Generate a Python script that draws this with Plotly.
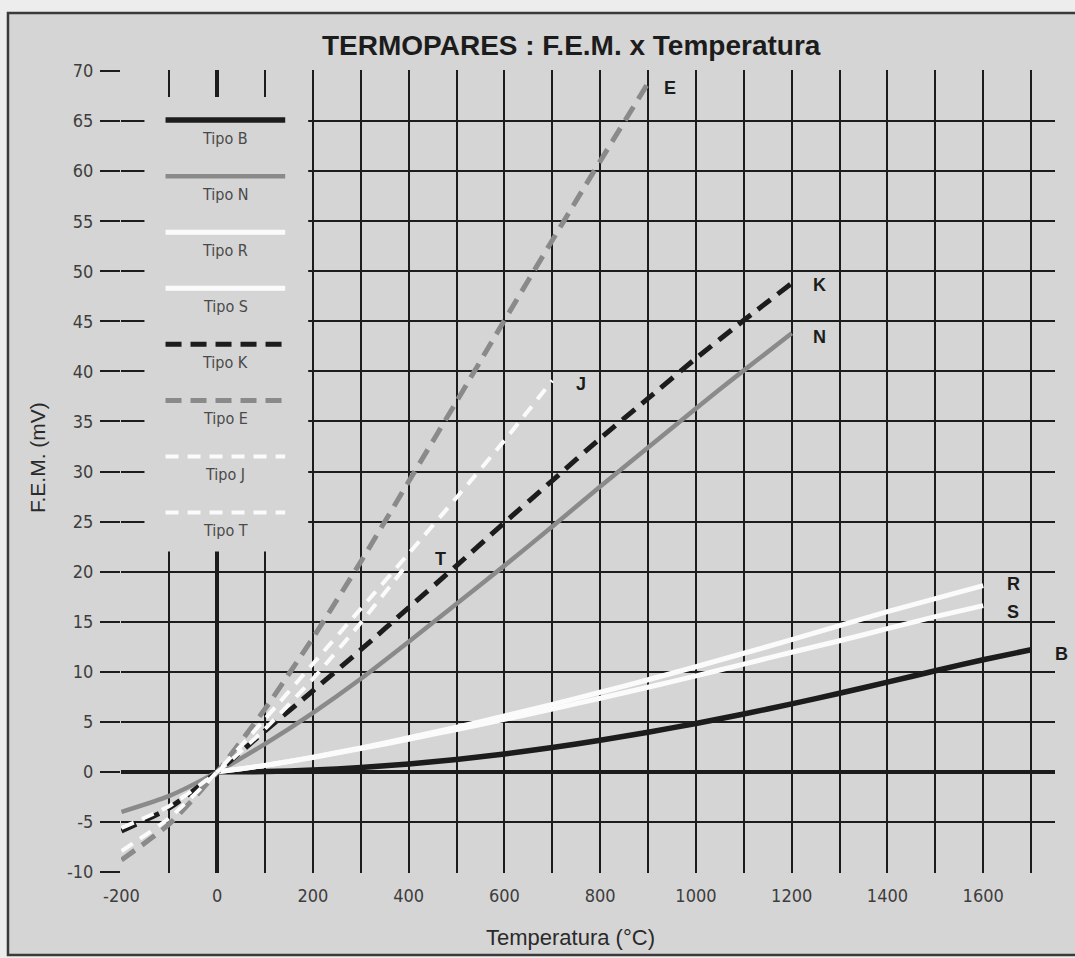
import plotly.graph_objects as go

# Temperature grid (°C) and F.E.M. (mV) per thermocouple type
temp_low = [-200, -100, 0, 100, 200, 300, 400]
temp_e = [-200, -100, 0, 100, 200, 300, 400, 500, 600, 700, 800, 900]
temp_j = [-200, -100, 0, 100, 200, 300, 400, 500, 600, 700]
temp_kn = [-200, -100, 0, 100, 200, 300, 400, 500, 600, 700, 800, 900, 1000, 1100, 1200]
temp_rs = [0, 100, 200, 300, 400, 500, 600, 700, 800, 900, 1000, 1100, 1200, 1300, 1400, 1500, 1600]
temp_b = [0, 100, 200, 300, 400, 500, 600, 700, 800, 900, 1000, 1100, 1200, 1300, 1400, 1500, 1600, 1700]

fem_e = [-8.8, -5.2, 0.0, 6.3, 13.4, 21.0, 29.0, 37.0, 45.1, 53.1, 61.0, 68.8]
fem_j = [-7.9, -4.6, 0.0, 5.3, 10.8, 16.3, 21.8, 27.4, 33.1, 39.1]
fem_t = [-5.6, -3.4, 0.0, 4.3, 9.3, 14.9, 20.9]
fem_k = [-5.9, -3.6, 0.0, 4.1, 8.1, 12.2, 16.4, 20.6, 24.9, 29.1, 33.3, 37.3, 41.3, 45.1, 48.8]
fem_n = [-4.0, -2.4, 0.0, 2.8, 5.9, 9.3, 13.0, 16.8, 20.6, 24.5, 28.5, 32.4, 36.3, 40.1, 43.8]
fem_r = [0.0, 0.65, 1.47, 2.40, 3.41, 4.47, 5.58, 6.74, 7.95, 9.2, 10.5, 11.85, 13.2, 14.6, 16.0, 17.3, 18.6]
fem_s = [0.0, 0.65, 1.44, 2.32, 3.26, 4.23, 5.24, 6.28, 7.35, 8.45, 9.59, 10.76, 11.95, 13.1, 14.3, 15.5, 16.6]
fem_b = [0.0, 0.03, 0.18, 0.43, 0.79, 1.24, 1.79, 2.43, 3.15, 3.96, 4.83, 5.78, 6.79, 7.85, 8.96, 10.1, 11.2, 12.2]

x_ticks = [-200, 0, 200, 400, 600, 800, 1000, 1200, 1400, 1600]
y_ticks = [-10, -5, 0, 5, 10, 15, 20, 25, 30, 35, 40, 45, 50, 55, 60, 65, 70]

BG = "#d5d5d5"
INK = "#1c1c1c"
GRAY = "#8a8a8a"
WHITE = "#fbfbfb"
DASH = "16px,9px"
DASH_S = "13px,9px"
NARROW = "Liberation Sans Narrow, DejaVu Sans Condensed, Liberation Sans, Arial, sans-serif"
SANS = "Liberation Sans, Arial, sans-serif"

# type, x, y, colour, width, dash, end-label shift (px)
series = [
    ("B", temp_b, fem_b, INK, 5.5, "solid", (30, -4)),
    ("N", temp_kn, fem_n, GRAY, 4.5, "solid", (28, -4)),
    ("R", temp_rs, fem_r, WHITE, 5, "solid", (30, 2)),
    ("S", temp_rs, fem_s, WHITE, 5, "solid", (30, -6)),
    ("K", temp_kn, fem_k, INK, 5, DASH, (28, -2)),
    ("E", temp_e, fem_e, GRAY, 5, DASH, (22, -5)),
    ("J", temp_j, fem_j, WHITE, 4, DASH_S, (29, -4)),
    ("T", temp_low, fem_t, WHITE, 4, DASH_S, (32, 4)),
]

fig = go.Figure()
annotations = []
for name, xs, ys, color, width, dash, (dx, dy) in series:
    fig.add_trace(go.Scatter(
        x=xs, y=ys, mode="lines", name="Tipo " + name,
        line=dict(color=color, width=width, dash=dash, shape="spline", smoothing=0.6),
        showlegend=False, hoverinfo="skip",
    ))
    annotations.append(dict(
        x=xs[-1], y=ys[-1], xref="x", yref="y", text="<b>%s</b>" % name,
        showarrow=False, xshift=dx, yshift=dy, xanchor="center", yanchor="middle",
        font=dict(family=SANS, size=18, color=INK),
    ))

# Axis titles
annotations.append(dict(
    text="Temperatura (°C)", xref="paper", yref="paper", x=0.481, y=-0.08,
    xanchor="center", yanchor="middle", showarrow=False,
    font=dict(family=SANS, size=22, color="#2a2a2a"),
))
annotations.append(dict(
    text="F.E.M. (mV)", xref="paper", yref="paper", x=-0.09, y=0.518,
    xanchor="center", yanchor="middle", showarrow=False, textangle=-90,
    font=dict(family=SANS, size=21, color="#2a2a2a"),
))

# Outer frame of the figure (paper coordinates relative to the plot area)
shapes = [dict(
    type="rect", xref="paper", yref="paper", x0=-0.121, x1=1.06, y0=-0.102, y1=1.071,
    fillcolor=BG, line=dict(color="#3a3a3a", width=2.5), layer="below",
)]

# Legend panel covering the grid in the upper-left corner
box_x0, box_x1, box_y0, box_y1 = -152, 190, 22, 67.4
shapes.append(dict(
    type="rect", xref="x", yref="y", x0=box_x0, x1=box_x1, y0=box_y0, y1=box_y1,
    fillcolor=BG, line=dict(width=0), layer="between",
))
row_top, row_step = 65.1, 5.6
for i, (name, xs, ys, color, width, dash, _) in enumerate(series):
    yy = row_top - i * row_step
    shapes.append(dict(
        type="line", xref="x", yref="y", x0=-108, x1=142, y0=yy, y1=yy,
        line=dict(color=color, width=width, dash=dash), layer="above",
    ))
    annotations.append(dict(
        x=17, y=yy, xref="x", yref="y", yshift=-18, text="Tipo " + name,
        showarrow=False, xanchor="center", yanchor="middle",
        font=dict(family=NARROW, size=16, color="#4a4a4a"),
    ))

fig.update_layout(
    width=1075, height=958,
    margin=dict(l=121, r=20, t=70, b=85),
    paper_bgcolor="#ededed", plot_bgcolor="rgba(0,0,0,0)",
    title=dict(
        text="<b>TERMOPARES : F.E.M. x Temperatura</b>",
        x=0.482, xref="paper", xanchor="center",
        y=1 - 45 / 958, yref="container", yanchor="middle",
        font=dict(family=SANS, size=28, color=INK),
    ),
    xaxis=dict(
        range=[-201, 1750], tickvals=x_ticks, ticktext=[str(v) for v in x_ticks],
        showgrid=True, gridcolor=INK, gridwidth=2,
        minor=dict(dtick=100, tick0=0, showgrid=True, gridcolor=INK, gridwidth=2, ticks=""),
        zeroline=True, zerolinecolor=INK, zerolinewidth=4,
        showline=False, ticks="", ticklabelstandoff=10,
        tickfont=dict(family=NARROW, size=18, color="#3d3d3d"),
    ),
    yaxis=dict(
        range=[-10.1, 70.1], tickvals=y_ticks, ticktext=[str(v) for v in y_ticks],
        showgrid=True, gridcolor=INK, gridwidth=2,
        zeroline=True, zerolinecolor=INK, zerolinewidth=4,
        showline=False, ticks="outside", ticklen=20, tickwidth=2, tickcolor=INK,
        ticklabelstandoff=3,
        tickfont=dict(family=NARROW, size=18, color="#3d3d3d"),
    ),
    shapes=shapes,
    annotations=annotations,
)

fig.write_html("out.html")
